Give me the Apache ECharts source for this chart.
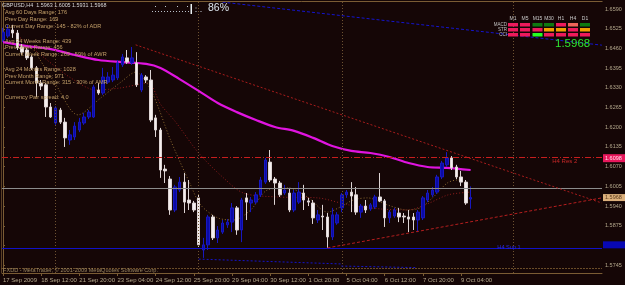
<!DOCTYPE html>
<html><head><meta charset="utf-8">
<script src="https://cdn.jsdelivr.net/npm/echarts@6/dist/echarts.min.js"></script>
<style>html,body{margin:0;padding:0;background:#150606;}#c{width:625px;height:285px;}</style>
</head><body><div id="c"></div>
<script>
// ---- data (GBPUSD H4) ----
const timeLabels = ['17 Sep 2009','18 Sep 12:00','21 Sep 20:00','23 Sep 04:00','24 Sep 12:00','25 Sep 20:00','29 Sep 04:00','30 Sep 12:00','1 Oct 20:00','5 Oct 04:00','6 Oct 12:00','7 Oct 20:00','9 Oct 04:00'];
const labelBars = [0,8,16,24,32,40,48,56,64,72,80,88,96];
const priceTicks = [1.5745,1.5810,1.5875,1.5940,1.6005,1.6070,1.6135,1.6200,1.6265,1.6330,1.6395,1.6460,1.6525,1.6590];

const opens = [1.6488,1.6501,1.6521,1.6511,1.6465,1.6455,1.6432,1.6396,1.6346,1.6340,
1.6267,1.6214,1.6257,1.6217,1.6158,1.6168,1.6191,1.6214,1.6234,1.6234,
1.6323,1.6313,1.6349,1.6356,1.6363,1.6406,1.6429,1.6412,1.6412,1.6323,
1.6366,1.6356,1.6231,1.6191,1.6062,1.6029,1.5927,1.5993,1.6019,1.5960,
1.5950,1.5967,1.5795,1.5812,1.5904,1.5835,1.5854,1.5878,1.5887,1.5934,
1.5861,1.5967,1.5950,1.5953,1.5977,1.6019,1.6085,1.6029,1.6016,1.5983,
1.5983,1.5927,1.5953,1.5983,1.5957,1.5950,1.5894,1.5907,1.5904,1.5838,
1.5884,1.5934,1.5977,1.5986,1.5977,1.5920,1.5940,1.5930,1.5937,1.5970,
1.5957,1.5901,1.5907,1.5917,1.5907,1.5904,1.5904,1.5894,1.5901,1.5960,
1.5977,1.5986,1.6036,1.6076,1.6099,1.6069,1.6036,1.6019,1.5963];
const closes = [1.6514,1.6524,1.6511,1.6462,1.6448,1.6429,1.6396,1.6346,1.6336,1.6267,
1.6234,1.6264,1.6217,1.6165,1.6175,1.6204,1.6217,1.6234,1.6250,1.6333,
1.6313,1.6366,1.6366,1.6372,1.6412,1.6432,1.6415,1.6429,1.6340,1.6372,
1.6356,1.6224,1.6191,1.6059,1.6056,1.5927,1.6003,1.6019,1.5953,1.5950,
1.5927,1.5812,1.5812,1.5904,1.5835,1.5861,1.5884,1.5887,1.5934,1.5861,
1.5960,1.5953,1.5960,1.5977,1.6026,1.6092,1.6026,1.6016,1.5977,1.5993,
1.5927,1.5983,1.5986,1.5960,1.5953,1.5901,1.5911,1.5904,1.5838,1.5911,
1.5911,1.5977,1.5986,1.5973,1.5920,1.5940,1.5927,1.5944,1.5970,1.5957,
1.5901,1.5920,1.5927,1.5904,1.5904,1.5897,1.5894,1.5920,1.5967,1.5983,
1.5993,1.6036,1.6082,1.6099,1.6066,1.6036,1.6019,1.5950,1.5968];
const lows = [1.6481,1.6495,1.6495,1.6455,1.6439,1.6422,1.6389,1.6300,1.6323,1.6234,
1.6231,1.6208,1.6211,1.6135,1.6142,1.6158,1.6184,1.6208,1.6227,1.6231,
1.6307,1.6307,1.6343,1.6349,1.6356,1.6399,1.6409,1.6406,1.6333,1.6316,
1.6346,1.6217,1.6168,1.6033,1.6016,1.5911,1.5920,1.5986,1.5917,1.5927,
1.5920,1.5805,1.5769,1.5795,1.5828,1.5818,1.5848,1.5868,1.5854,1.5845,
1.5821,1.5894,1.5920,1.5947,1.5970,1.6013,1.6019,1.5944,1.5970,1.5977,
1.5920,1.5920,1.5947,1.5927,1.5940,1.5881,1.5884,1.5861,1.5802,1.5828,
1.5878,1.5920,1.5967,1.5920,1.5911,1.5901,1.5917,1.5924,1.5930,1.5953,
1.5871,1.5884,1.5901,1.5887,1.5884,1.5854,1.5861,1.5854,1.5894,1.5953,
1.5970,1.5980,1.6029,1.6069,1.6059,1.6029,1.6006,1.5944,1.5931];
const highs = [1.6528,1.6538,1.6538,1.6521,1.6475,1.6462,1.6439,1.6402,1.6356,1.6346,
1.6280,1.6270,1.6264,1.6231,1.6191,1.6217,1.6231,1.6247,1.6257,1.6340,
1.6346,1.6396,1.6382,1.6399,1.6422,1.6442,1.6455,1.6465,1.6448,1.6379,
1.6372,1.6389,1.6241,1.6198,1.6076,1.6039,1.6010,1.6036,1.6049,1.6026,
1.5957,1.5977,1.5835,1.5911,1.5911,1.5874,1.5894,1.5897,1.5950,1.5940,
1.5967,1.5983,1.5970,1.5986,1.6036,1.6099,1.6125,1.6036,1.6023,1.6010,
1.6000,1.5993,1.6019,1.6010,1.5967,1.5960,1.5927,1.5944,1.5917,1.5934,
1.5920,1.5983,1.5993,1.6019,1.6003,1.5947,1.5960,1.5950,1.5977,1.6049,
1.5963,1.5927,1.5934,1.5934,1.5917,1.5927,1.5917,1.5927,1.5973,1.5993,
1.6003,1.6043,1.6089,1.6118,1.6105,1.6076,1.6056,1.6026,1.6005];

// moving averages as [bar, price]
const magentaMA = [[0,1.6481],[5,1.6468],[10,1.6458],[15,1.6439],[20,1.6422],[25,1.6415],[30,1.6409],[33,1.6396],[37,1.6359],[41,1.6320],[45,1.6280],[49,1.6250],[53,1.6224],[57,1.6201],[61,1.6188],[65,1.6165],[69,1.6138],[73,1.6122],[77,1.6115],[81,1.6102],[85,1.6082],[89,1.6069],[93,1.6066],[98,1.6059]];
const redDottedMA = [[1.7,1.6521],[7.9,1.6439],[14.2,1.6363],[19.5,1.6323],[24.7,1.6330],[30.3,1.6346],[33.1,1.6274],[36.2,1.6217],[41,1.6115],[46,1.6036],[50.4,1.5983],[57.5,1.5970],[65.9,1.5967],[72.4,1.5944],[79.5,1.5930],[84.9,1.5927],[88.5,1.5944],[93.3,1.5977],[97.9,1.5986]];
const brownDottedMA = [[6.5,1.6455],[11.1,1.6340],[15.7,1.6241],[20.5,1.6297],[24.7,1.6349],[27.8,1.6382],[31,1.6323],[35.1,1.6158],[39.3,1.6010],[41.4,1.5944],[45,1.5901],[48.3,1.5894],[51.9,1.5927],[55.4,1.5993],[59.6,1.6000],[63.8,1.5970],[68,1.5920],[70.7,1.5937],[73.4,1.5960],[76.4,1.5967],[80.5,1.5944],[84.7,1.5927],[87.4,1.5934],[90.2,1.5970],[93.1,1.6016],[95.2,1.6026],[97.9,1.6010]];

// levels and trend lines
const bidPrice = 1.5968;
const resLevel = 1.6098;
const supLevel = 1.5812;
const weekSeparators = [11,41,71,107];
const triangleUpper = [[27.8,1.6472],[125.5,1.5950]];
const triangleLower = [[68,1.5802],[125.5,1.5967]];
const blueTopLine = [[46,1.6613],[125.5,1.6471]];
const blueLowSegments = [[[-0.4,1.5795],[41,1.5769]],[[41,1.5765],[70.9,1.5749]],[[70.9,1.5742],[86.4,1.5737]]];

const infoLines = ['Avg 60 Days Range: 176','Prev Day Range: 169','Current Day Range: 145 - 82% of ADR',
 'Avg 24 Weeks Range: 439','Prev Week Range: 456','Current Week Range: 269 - 59% of AWR',
 'Avg 24 Months Range: 1028','Prev Month Range: 971','Current Month Range: 315 - 30% of AMR',
 'Currency Pair spread: 4.0'];
const tfCols = ['M1','M5','M15','M30','H1','H4','D1'];
const tfRows = ['MACD','STR','CCI'];
const tfStates = [['dn','dn','up','up','dn','wk','up'],['dn','dn','dn','nt','nt','dn','nt'],['dn','dn','ups','dn','dn','dn','dn']];

// ---- chart ----
const chart = echarts.init(document.getElementById('c'), null, {renderer:'canvas'});
const FONT = 'Liberation Sans';
const BROWN = '#7a5c34';
const seg = (pts) => pts.map(p => ({coord: p}));

const option = {
  backgroundColor: '#150606',
  animation: false,
  grid: {left: 1, right: 23, top: 2, bottom: 12},
  xAxis: {type: 'value', min: -0.2, max: 125.53,
    axisLine: {show: true, lineStyle: {color: BROWN}},
    axisTick: {show: true, length: 3, customValues: labelBars, lineStyle: {color: BROWN}},
    axisLabel: {customValues: labelBars, formatter: v => timeLabels[labelBars.indexOf(v)], align: 'left', color: '#b4a88c', fontSize: 6, margin: 4, fontFamily: FONT},
    splitLine: {show: false}},
  yAxis: {type: 'value', position: 'right', min: 1.57191, max: 1.66134, scale: true,
    axisLine: {show: true, lineStyle: {color: BROWN}},
    axisTick: {show: true, length: 2, customValues: priceTicks, lineStyle: {color: BROWN}},
    axisLabel: {customValues: priceTicks, formatter: v => v.toFixed(4), color: '#b4a88c', fontSize: 5.5, margin: 3, fontFamily: FONT},
    splitLine: {show: false}},
  series: [
    {type: 'line', data: brownDottedMA, symbol: 'none', smooth: 0.3, lineStyle: {color: '#8c6a30', width: 1, type: [1,2]}, z: 2},
    {type: 'line', data: redDottedMA, symbol: 'none', smooth: 0.3, lineStyle: {color: '#8e1c1c', width: 1, type: [1,2]}, z: 2},
    {type: 'candlestick', encode: {x: 0, y: [1,2,3,4]},
      data: opens.map((o, i) => [i, o, closes[i], lows[i], highs[i]]),
      barWidth: 3,
      itemStyle: {color: '#0a0aa5', color0: '#f4eeee', borderColor: '#1818c0', borderColor0: '#ddd4d4', borderWidth: 1},
      z: 4,
      markLine: {silent: true, symbol: 'none', label: {show: false}, animation: false,
        data: [
          ...weekSeparators.map(x => ({xAxis: x, lineStyle: {color: '#6e5232', type: [1,2], width: 1}})),
          {yAxis: resLevel, lineStyle: {color: '#c81e1e', type: [6,2,1,2], width: 1}},
          {yAxis: bidPrice, lineStyle: {color: '#8c8c8c', type: 'solid', width: 1}},
          {yAxis: supLevel, lineStyle: {color: '#1010c8', type: 'solid', width: 1}},
          seg(triangleUpper).map(d => Object.assign(d, {lineStyle: {color: '#a81c1c', type: [2,2], width: 1}})),
          seg(triangleLower).map(d => Object.assign(d, {lineStyle: {color: '#b41e1e', type: [3,2], width: 1}})),
          seg(blueTopLine).map(d => Object.assign(d, {lineStyle: {color: '#1414d0', type: [3,2], width: 1}})),
          ...blueLowSegments.map(s => seg(s).map(d => Object.assign(d, {lineStyle: {color: '#1414c8', type: [2,2], width: 1}})))
        ]}},
    {type: 'line', data: magentaMA, symbol: 'none', smooth: 0.3, lineStyle: {color: '#e014e0', width: 2.2}, z: 3}
  ]
};
chart.setOption(option);

// ---- overlays ----
const py = v => chart.convertToPixel({yAxisIndex: 0}, v);
const px = v => chart.convertToPixel({xAxisIndex: 0}, v);
const txt = (x, y, text, fill, size, extra) => Object.assign({type: 'text', x: x, y: y, z: 50,
  style: {text: text, fill: fill, fontSize: size, fontFamily: FONT, textVerticalAlign: 'middle', textAlign: 'left'}}, extra || {});
const g = [];
// borders
g.push({type: 'line', z: 40, shape: {x1: 0, y1: 1.5, x2: 602.5, y2: 1.5}, style: {stroke: BROWN, lineWidth: 1}});
g.push({type: 'line', z: 40, shape: {x1: 1.5, y1: 1, x2: 1.5, y2: 273}, style: {stroke: '#5a4026', lineWidth: 1}});
g.push({type: 'line', z: 40, shape: {x1: 1, y1: 268.5, x2: 602, y2: 268.5}, style: {stroke: '#6a4c28', lineWidth: 1, lineDash: [2,1]}});
// info text
g.push(txt(2, 6, 'GBPUSD,H4  1.5963 1.6005 1.5931 1.5968', '#d8d8d8', 5.4));
const infoY = [12.7, 19.3, 26, 41, 47.7, 54.3, 69.3, 76, 82.7, 97.7];
infoLines.forEach((t, k) => g.push(txt(5, infoY[k], t, '#c4a06a', 5.6)));
// gauge
g.push({type: 'line', z: 40, shape: {x1: 152, y1: 11.5, x2: 190, y2: 11.5}, style: {stroke: '#b8c0c8', lineWidth: 1, lineDash: [1,2]}});
[155,165,177,187].forEach(x => g.push({type: 'rect', z: 40, shape: {x: x, y: 6, width: 1, height: 1}, style: {fill: '#c0c8d0'}}));
g.push({type: 'rect', z: 40, shape: {x: 190.5, y: 4, width: 1.5, height: 10}, style: {fill: '#e8eef2'}});
[[195.5,7.5],[195.5,11],[200.5,11]].forEach(p => g.push({type: 'rect', z: 40, shape: {x: p[0], y: p[1], width: 1, height: 1}, style: {fill: '#c0c8d0'}}));
g.push(txt(208, 8, '86%', '#dbe4ec', 10.5));
// signal table
const colX = [513, 525, 537.5, 549, 561, 573, 585];
const stateColor = {dn: '#ee1a5c', up: '#0e7a10', wk: '#f0645a', nt: '#f0a000', ups: '#22ff22'};
tfCols.forEach((c, k) => g.push(txt(colX[k], 19, c, '#c8c8c8', 5, {style: {text: c, fill: '#c8c8c8', fontSize: 5, fontFamily: FONT, textVerticalAlign: 'middle', textAlign: 'center'}})));
tfRows.forEach((r, j) => {
  const yy = 23 + j * 5;
  g.push({type: 'text', x: 507, y: yy + 1.7, z: 50, style: {text: r, fill: '#c0c0c0', fontSize: 4.5, fontFamily: FONT, textVerticalAlign: 'middle', textAlign: 'right'}});
  tfStates[j].forEach((s, k) => g.push({type: 'rect', z: 45, shape: {x: colX[k] - 5, y: yy, width: 10, height: 3.5}, style: {fill: stateColor[s]}}));
});
g.push(txt(555, 44, '1.5968', '#2ee62e', 11.5));
// axis price boxes
g.push({type: 'rect', z: 45, shape: {x: 603, y: py(resLevel) - 4, width: 22, height: 8}, style: {fill: '#e8185c'}});
g.push(txt(605, py(resLevel), resLevel.toFixed(4), '#ffe0ea', 5.5));
g.push({type: 'rect', z: 45, shape: {x: 603, y: py(bidPrice) - 3.5, width: 22, height: 7}, style: {fill: '#dcb07c'}});
g.push(txt(605, py(bidPrice), bidPrice.toFixed(4), '#5a3a1a', 5.5));
g.push({type: 'rect', z: 45, shape: {x: 603, y: py(supLevel) - 3.5, width: 22, height: 7}, style: {fill: '#0808b4'}});
// level labels
g.push(txt(px(115.1), py(resLevel) + 3.5, 'H4 Res 2', '#c82828', 6));
g.push(txt(px(103.6), py(supLevel) + 3, 'H4 Sup 1', '#2a2ae0', 5.6));
// copyright
g.push(txt(3, 270.5, 'FXDD - MetaTrader, \u00a9 2001-2009 MetaQuotes Software Corp.', '#9a8660', 5.6));
chart.setOption({graphic: g});
</script></body></html>
